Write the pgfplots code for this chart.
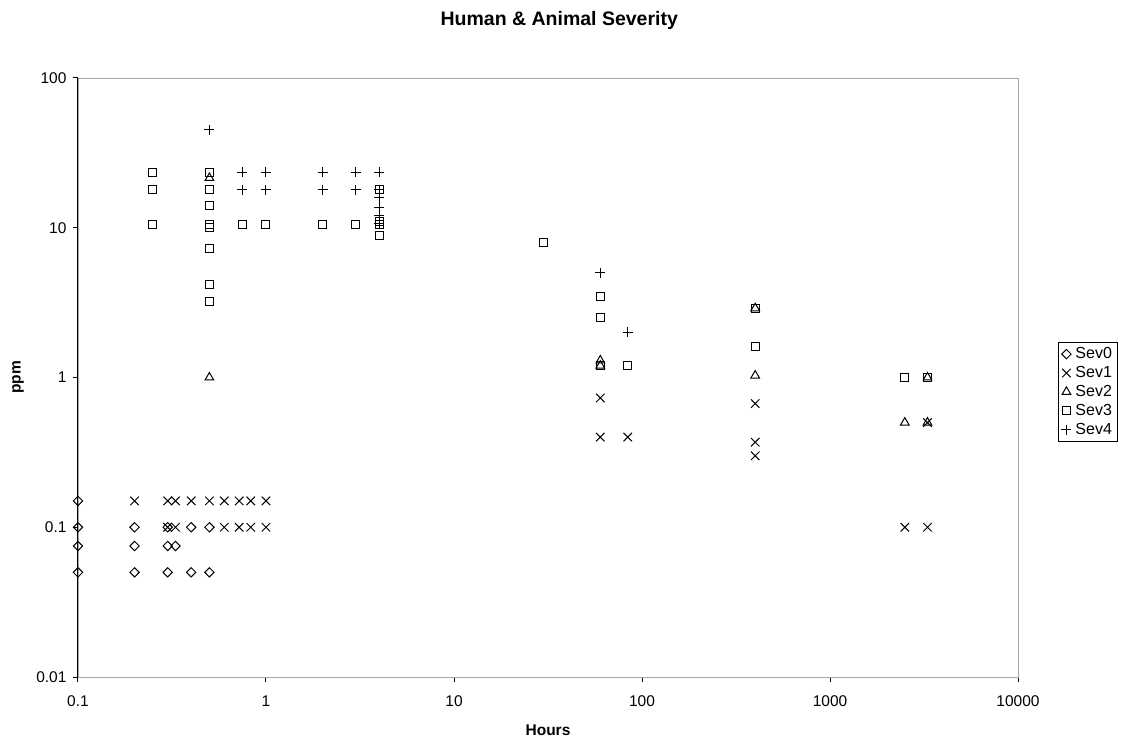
\documentclass[border=0pt]{standalone}
\usepackage{fontspec}
\setmainfont{Liberation Sans}
\usepackage{pgfplots}
\pgfplotsset{compat=1.18}
\usepackage{pgfplotstable}

% exposure duration (hours) vs. concentration (ppm), one table per severity class
\pgfplotstableread{
h ppm
0.1 0.15
0.1 0.1
0.1 0.075
0.1 0.05
0.2 0.1
0.2 0.075
0.2 0.05
0.3 0.1
0.3 0.075
0.3 0.05
0.33 0.075
0.4 0.1
0.4 0.05
0.5 0.1
0.5 0.05
}\sevzero

\pgfplotstableread{
h ppm
0.2 0.15
0.3 0.15
0.33 0.15
0.4 0.15
0.5 0.15
0.6 0.15
0.72 0.15
0.83 0.15
1 0.15
0.3 0.1
0.33 0.1
0.6 0.1
0.72 0.1
0.83 0.1
1 0.1
60 0.73
60 0.4
84 0.4
400 0.67
400 0.37
400 0.3
2500 0.1
3300 0.5
3300 0.1
}\sevone

\pgfplotstableread{
h ppm
0.5 21.5
0.5 1
60 1.2
60 1.3
400 2.9
400 1.03
2500 0.5
3300 1
3300 0.5
}\sevtwo

\pgfplotstableread{
h ppm
0.25 23.5
0.25 18
0.25 10.5
0.5 23.5
0.5 18
0.5 14
0.5 10.5
0.5 10
0.5 7.3
0.5 4.2
0.5 3.2
0.75 10.5
1 10.5
2 10.5
3 10.5
4 18
4 11
4 10.5
4 8.9
30 8
60 3.5
60 2.5
60 1.2
84 1.2
400 2.9
400 1.6
2500 1
3300 1
}\sevthree

\pgfplotstableread{
h ppm
0.5 45
0.75 23.5
0.75 18
1 23.5
1 18
2 23.5
2 18
3 23.5
3 18
4 23.5
4 18
4 15.8
4 13.7
4 12
4 10.6
60 5
84 2
}\sevfour

\begin{document}
\begin{tikzpicture}
\begin{axis}[
  name=ax, at={(0,0)}, anchor=south west,
  scale only axis, width=940pt, height=599pt,
  xmode=log, ymode=log,
  xmin=0.1, xmax=10000, ymin=0.01, ymax=100,
  xtick={0.1,1,10,100,1000,10000},
  xticklabels={0.1,1,10,100,1000,10000},
  ytick={0.01,0.1,1,10,100},
  yticklabels={0.01,0.1,1,10,100},
  xminorticks=false, yminorticks=false,
  axis x line*=bottom, axis y line*=left,
  axis line style={black, line width=1pt, -},
  tick align=outside, major tick length=5pt,
  tick style={black, line width=1pt},
  tick label style={font=\fontsize{15.5}{18}\selectfont},
  xticklabel style={yshift=-10pt},
  yticklabel style={xshift=-3pt},
  clip=false,
  title={Human \& Animal Severity},
  title style={font=\fontsize{19.5}{22}\selectfont\bfseries,
    at={(axis description cs:0.512,1.096)}, anchor=center, yshift=-6pt},
  xlabel={Hours},
  xlabel style={font=\fontsize{15.5}{18}\selectfont\bfseries,
    at={(axis description cs:0.5,-0.0885)}, anchor=center},
  ylabel={ppm},
  ylabel style={font=\fontsize{15.5}{18}\selectfont\bfseries,
    at={(axis description cs:-0.0638,0.5)}, anchor=center},
  legend style={font=\fontsize{16}{19}\selectfont, draw=black,
    line width=0.8pt, at={(axis description cs:1.0426,0.476)},
    anchor=west, row sep=2.2pt, inner sep=3pt,
    /tikz/every odd column/.append style={column sep=2pt}},
  legend cell align=left,
  every axis plot/.append style={only marks, black, line width=1pt},
]
\draw[gray!70, line width=0.8pt] (rel axis cs:0,0) rectangle (rel axis cs:1,1);
\addplot[mark=square, mark size=3.3pt, mark options={rotate=45}] table[x=h,y=ppm] {\sevzero};
\addlegendentry{Sev0}
\addplot[mark=x, mark size=6pt] table[x=h,y=ppm] {\sevone};
\addlegendentry{Sev1}
\addplot[mark=triangle, mark size=5pt] table[x=h,y=ppm] {\sevtwo};
\addlegendentry{Sev2}
\addplot[mark=square, mark size=4pt] table[x=h,y=ppm] {\sevthree};
\addlegendentry{Sev3}
\addplot[mark=+, mark size=5pt] table[x=h,y=ppm] {\sevfour};
\addlegendentry{Sev4}
\end{axis}
\pgfresetboundingbox
\path (-78pt,-61pt) rectangle (1045pt,677pt);
\end{tikzpicture}
\end{document}
